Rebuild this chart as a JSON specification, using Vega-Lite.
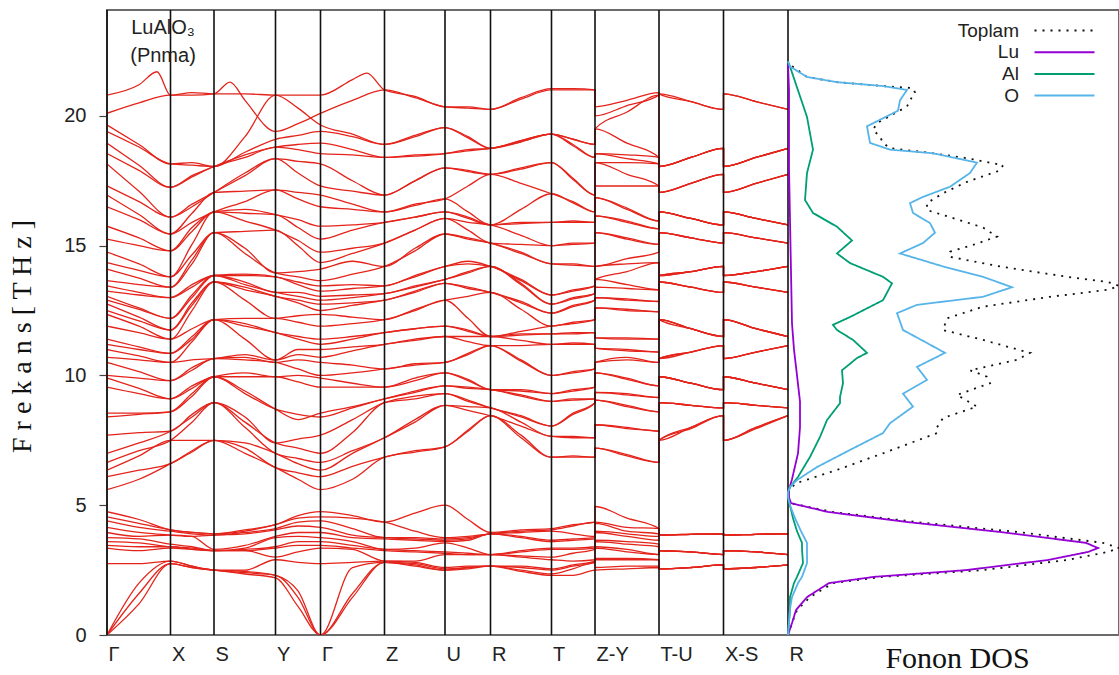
{
  "$schema": "https://vega.github.io/schema/vega-lite/v6.json",
  "width": 1012,
  "height": 625,
  "autosize": {"type": "none"},
  "padding": {"left": 107, "top": 10, "right": 0, "bottom": 40},
  "background": "white",
  "config": {
    "view": {"stroke": "#6b6b6b", "strokeWidth": 2},
    "font": "Liberation Sans"
  },
  "title": {
    "text": "LuAlO₃",
    "subtitle": "(Pnma)",
    "anchor": "start",
    "frame": "group",
    "align": "center",
    "dx": 56,
    "offset": -57,
    "font": "Liberation Sans",
    "fontSize": 20,
    "fontWeight": "normal",
    "color": "#222222",
    "subtitleFont": "Liberation Sans",
    "subtitleFontSize": 20,
    "subtitleColor": "#222222",
    "subtitlePadding": 8
  },
  "datasets": {
    "kpts": [{"k":0},{"k":0.635},{"k":1.07},{"k":1.685},{"k":2.135},{"k":2.775},{"k":3.38},{"k":3.835},{"k":4.445},{"k":4.88},{"k":5.52},{"k":6.165},{"k":6.81}],
    "bands": [
{"b":1,"k":0,"f":0},{"b":1,"k":0.32,"f":1.2},{"b":1,"k":0.635,"f":2.75},{"b":1,"k":0.85,"f":2.6},{"b":1,"k":1.07,"f":2.5},{"b":1,"k":1.38,"f":2.35},{"b":1,"k":1.685,"f":2.2},{"b":1,"k":1.91,"f":1.1},{"b":1,"k":2.135,"f":0},{"b":1,"k":2.455,"f":1.45},{"b":1,"k":2.775,"f":2.8},{"b":1,"k":3.08,"f":2.65},{"b":1,"k":3.38,"f":2.5},{"b":1,"k":3.61,"f":2.55},{"b":1,"k":3.835,"f":2.65},{"b":1,"k":4.14,"f":2.45},{"b":1,"k":4.445,"f":2.3},{"b":1,"k":4.66,"f":2.3},{"b":1,"k":4.88,"f":2.5},{"b":1,"k":4.88,"f":2.5},{"b":1,"k":5.2,"f":2.55},{"b":1,"k":5.52,"f":2.6},{"b":1,"k":5.52,"f":2.55},{"b":1,"k":5.84,"f":2.6},{"b":1,"k":6.165,"f":2.7},{"b":1,"k":6.165,"f":2.55},{"b":1,"k":6.49,"f":2.6},{"b":1,"k":6.81,"f":2.7},
{"b":2,"k":0,"f":0},{"b":2,"k":0.32,"f":1.6},{"b":2,"k":0.635,"f":2.75},{"b":2,"k":0.85,"f":2.6},{"b":2,"k":1.07,"f":2.5},{"b":2,"k":1.38,"f":2.4},{"b":2,"k":1.685,"f":2.3},{"b":2,"k":1.91,"f":1.45},{"b":2,"k":2.135,"f":0},{"b":2,"k":2.455,"f":1.6},{"b":2,"k":2.775,"f":2.8},{"b":2,"k":3.08,"f":2.7},{"b":2,"k":3.38,"f":2.5},{"b":2,"k":3.61,"f":2.6},{"b":2,"k":3.835,"f":2.65},{"b":2,"k":4.14,"f":2.5},{"b":2,"k":4.445,"f":2.35},{"b":2,"k":4.66,"f":2.55},{"b":2,"k":4.88,"f":2.8},{"b":2,"k":4.88,"f":2.6},{"b":2,"k":5.2,"f":2.65},{"b":2,"k":5.52,"f":2.65},{"b":2,"k":5.52,"f":2.55},{"b":2,"k":5.84,"f":2.6},{"b":2,"k":6.165,"f":2.7},{"b":2,"k":6.165,"f":2.55},{"b":2,"k":6.49,"f":2.6},{"b":2,"k":6.81,"f":2.7},
{"b":3,"k":0,"f":0},{"b":3,"k":0.32,"f":2.0},{"b":3,"k":0.635,"f":2.85},{"b":3,"k":0.85,"f":2.65},{"b":3,"k":1.07,"f":2.5},{"b":3,"k":1.38,"f":2.45},{"b":3,"k":1.685,"f":2.3},{"b":3,"k":1.91,"f":1.7},{"b":3,"k":2.135,"f":0},{"b":3,"k":2.455,"f":2.6},{"b":3,"k":2.775,"f":2.8},{"b":3,"k":3.08,"f":2.75},{"b":3,"k":3.38,"f":2.55},{"b":3,"k":3.61,"f":2.6},{"b":3,"k":3.835,"f":2.65},{"b":3,"k":4.14,"f":2.6},{"b":3,"k":4.445,"f":2.5},{"b":3,"k":4.66,"f":2.65},{"b":3,"k":4.88,"f":2.8},{"b":3,"k":4.88,"f":2.9},{"b":3,"k":5.2,"f":2.9},{"b":3,"k":5.52,"f":2.9},{"b":3,"k":5.52,"f":2.55},{"b":3,"k":5.84,"f":2.6},{"b":3,"k":6.165,"f":2.7},{"b":3,"k":6.165,"f":2.55},{"b":3,"k":6.49,"f":2.6},{"b":3,"k":6.81,"f":2.7},
{"b":4,"k":0,"f":2.75},{"b":4,"k":0.32,"f":2.75},{"b":4,"k":0.635,"f":2.85},{"b":4,"k":0.85,"f":2.65},{"b":4,"k":1.07,"f":2.5},{"b":4,"k":1.38,"f":2.5},{"b":4,"k":1.685,"f":2.9},{"b":4,"k":1.91,"f":2.8},{"b":4,"k":2.135,"f":2.75},{"b":4,"k":2.455,"f":2.8},{"b":4,"k":2.775,"f":2.85},{"b":4,"k":3.08,"f":2.8},{"b":4,"k":3.38,"f":2.6},{"b":4,"k":3.61,"f":2.65},{"b":4,"k":3.835,"f":2.65},{"b":4,"k":4.14,"f":2.65},{"b":4,"k":4.445,"f":2.55},{"b":4,"k":4.66,"f":2.7},{"b":4,"k":4.88,"f":2.85},{"b":4,"k":4.88,"f":2.95},{"b":4,"k":5.2,"f":2.95},{"b":4,"k":5.52,"f":2.9},{"b":4,"k":5.52,"f":2.55},{"b":4,"k":5.84,"f":2.6},{"b":4,"k":6.165,"f":2.7},{"b":4,"k":6.165,"f":2.55},{"b":4,"k":6.49,"f":2.6},{"b":4,"k":6.81,"f":2.7},
{"b":5,"k":0,"f":3.35},{"b":5,"k":0.32,"f":3.25},{"b":5,"k":0.635,"f":3.35},{"b":5,"k":0.85,"f":3.3},{"b":5,"k":1.07,"f":3.25},{"b":5,"k":1.38,"f":3.25},{"b":5,"k":1.685,"f":3.0},{"b":5,"k":1.91,"f":3.2},{"b":5,"k":2.135,"f":3.35},{"b":5,"k":2.455,"f":3.3},{"b":5,"k":2.775,"f":2.85},{"b":5,"k":3.08,"f":2.85},{"b":5,"k":3.38,"f":3.1},{"b":5,"k":3.61,"f":3.1},{"b":5,"k":3.835,"f":3.1},{"b":5,"k":4.14,"f":3.0},{"b":5,"k":4.445,"f":2.9},{"b":5,"k":4.66,"f":2.85},{"b":5,"k":4.88,"f":2.9},{"b":5,"k":4.88,"f":3.35},{"b":5,"k":5.2,"f":3.2},{"b":5,"k":5.52,"f":3.1},{"b":5,"k":5.52,"f":3.25},{"b":5,"k":5.84,"f":3.2},{"b":5,"k":6.165,"f":3.1},{"b":5,"k":6.165,"f":3.25},{"b":5,"k":6.49,"f":3.2},{"b":5,"k":6.81,"f":3.1},
{"b":6,"k":0,"f":3.45},{"b":6,"k":0.32,"f":3.4},{"b":6,"k":0.635,"f":3.4},{"b":6,"k":0.85,"f":3.3},{"b":6,"k":1.07,"f":3.25},{"b":6,"k":1.38,"f":3.25},{"b":6,"k":1.685,"f":3.35},{"b":6,"k":1.91,"f":3.45},{"b":6,"k":2.135,"f":3.45},{"b":6,"k":2.455,"f":3.35},{"b":6,"k":2.775,"f":3.25},{"b":6,"k":3.08,"f":3.2},{"b":6,"k":3.38,"f":3.15},{"b":6,"k":3.61,"f":3.1},{"b":6,"k":3.835,"f":3.1},{"b":6,"k":4.14,"f":3.05},{"b":6,"k":4.445,"f":3.0},{"b":6,"k":4.66,"f":3.15},{"b":6,"k":4.88,"f":3.3},{"b":6,"k":4.88,"f":3.4},{"b":6,"k":5.2,"f":3.3},{"b":6,"k":5.52,"f":3.1},{"b":6,"k":5.52,"f":3.25},{"b":6,"k":5.84,"f":3.2},{"b":6,"k":6.165,"f":3.1},{"b":6,"k":6.165,"f":3.25},{"b":6,"k":6.49,"f":3.2},{"b":6,"k":6.81,"f":3.1},
{"b":7,"k":0,"f":3.6},{"b":7,"k":0.32,"f":3.55},{"b":7,"k":0.635,"f":3.4},{"b":7,"k":0.85,"f":3.35},{"b":7,"k":1.07,"f":3.25},{"b":7,"k":1.38,"f":3.3},{"b":7,"k":1.685,"f":3.4},{"b":7,"k":1.91,"f":3.6},{"b":7,"k":2.135,"f":3.6},{"b":7,"k":2.455,"f":3.45},{"b":7,"k":2.775,"f":3.3},{"b":7,"k":3.08,"f":3.25},{"b":7,"k":3.38,"f":3.2},{"b":7,"k":3.61,"f":3.15},{"b":7,"k":3.835,"f":3.1},{"b":7,"k":4.14,"f":3.2},{"b":7,"k":4.445,"f":3.3},{"b":7,"k":4.66,"f":3.3},{"b":7,"k":4.88,"f":3.35},{"b":7,"k":4.88,"f":3.6},{"b":7,"k":5.2,"f":3.5},{"b":7,"k":5.52,"f":3.4},{"b":7,"k":5.52,"f":3.25},{"b":7,"k":5.84,"f":3.2},{"b":7,"k":6.165,"f":3.1},{"b":7,"k":6.165,"f":3.25},{"b":7,"k":6.49,"f":3.2},{"b":7,"k":6.81,"f":3.1},
{"b":8,"k":0,"f":3.75},{"b":8,"k":0.32,"f":3.7},{"b":8,"k":0.635,"f":3.5},{"b":8,"k":0.85,"f":3.4},{"b":8,"k":1.07,"f":3.25},{"b":8,"k":1.38,"f":3.35},{"b":8,"k":1.685,"f":3.75},{"b":8,"k":1.91,"f":3.8},{"b":8,"k":2.135,"f":3.75},{"b":8,"k":2.455,"f":3.6},{"b":8,"k":2.775,"f":3.3},{"b":8,"k":3.08,"f":3.35},{"b":8,"k":3.38,"f":3.55},{"b":8,"k":3.61,"f":3.35},{"b":8,"k":3.835,"f":3.1},{"b":8,"k":4.14,"f":3.25},{"b":8,"k":4.445,"f":3.35},{"b":8,"k":4.66,"f":3.35},{"b":8,"k":4.88,"f":3.4},{"b":8,"k":4.88,"f":3.65},{"b":8,"k":5.2,"f":3.6},{"b":8,"k":5.52,"f":3.5},{"b":8,"k":5.52,"f":3.25},{"b":8,"k":5.84,"f":3.2},{"b":8,"k":6.165,"f":3.1},{"b":8,"k":6.165,"f":3.25},{"b":8,"k":6.49,"f":3.2},{"b":8,"k":6.81,"f":3.1},
{"b":9,"k":0,"f":3.95},{"b":9,"k":0.32,"f":3.8},{"b":9,"k":0.635,"f":3.85},{"b":9,"k":0.85,"f":3.8},{"b":9,"k":1.07,"f":3.3},{"b":9,"k":1.38,"f":3.45},{"b":9,"k":1.685,"f":3.8},{"b":9,"k":1.91,"f":3.95},{"b":9,"k":2.135,"f":3.95},{"b":9,"k":2.455,"f":3.75},{"b":9,"k":2.775,"f":3.7},{"b":9,"k":3.08,"f":3.65},{"b":9,"k":3.38,"f":3.6},{"b":9,"k":3.61,"f":3.65},{"b":9,"k":3.835,"f":3.9},{"b":9,"k":4.14,"f":3.75},{"b":9,"k":4.445,"f":3.6},{"b":9,"k":4.66,"f":3.65},{"b":9,"k":4.88,"f":3.7},{"b":9,"k":4.88,"f":3.95},{"b":9,"k":5.2,"f":3.8},{"b":9,"k":5.52,"f":3.65},{"b":9,"k":5.52,"f":3.85},{"b":9,"k":5.84,"f":3.88},{"b":9,"k":6.165,"f":3.9},{"b":9,"k":6.165,"f":3.85},{"b":9,"k":6.49,"f":3.88},{"b":9,"k":6.81,"f":3.9},
{"b":10,"k":0,"f":4.15},{"b":10,"k":0.32,"f":3.95},{"b":10,"k":0.635,"f":3.85},{"b":10,"k":0.85,"f":3.8},{"b":10,"k":1.07,"f":3.85},{"b":10,"k":1.38,"f":3.9},{"b":10,"k":1.685,"f":4.05},{"b":10,"k":1.91,"f":4.2},{"b":10,"k":2.135,"f":4.15},{"b":10,"k":2.455,"f":3.85},{"b":10,"k":2.775,"f":3.75},{"b":10,"k":3.08,"f":3.7},{"b":10,"k":3.38,"f":3.65},{"b":10,"k":3.61,"f":3.7},{"b":10,"k":3.835,"f":3.9},{"b":10,"k":4.14,"f":3.8},{"b":10,"k":4.445,"f":3.65},{"b":10,"k":4.66,"f":3.7},{"b":10,"k":4.88,"f":3.75},{"b":10,"k":4.88,"f":4.0},{"b":10,"k":5.2,"f":3.9},{"b":10,"k":5.52,"f":3.8},{"b":10,"k":5.52,"f":3.85},{"b":10,"k":5.84,"f":3.88},{"b":10,"k":6.165,"f":3.9},{"b":10,"k":6.165,"f":3.85},{"b":10,"k":6.49,"f":3.88},{"b":10,"k":6.81,"f":3.9},
{"b":11,"k":0,"f":4.4},{"b":11,"k":0.32,"f":4.15},{"b":11,"k":0.635,"f":4.0},{"b":11,"k":0.85,"f":3.9},{"b":11,"k":1.07,"f":3.85},{"b":11,"k":1.38,"f":3.95},{"b":11,"k":1.685,"f":4.1},{"b":11,"k":1.91,"f":4.35},{"b":11,"k":2.135,"f":4.4},{"b":11,"k":2.455,"f":4.1},{"b":11,"k":2.775,"f":3.75},{"b":11,"k":3.08,"f":3.75},{"b":11,"k":3.38,"f":3.7},{"b":11,"k":3.61,"f":3.75},{"b":11,"k":3.835,"f":3.9},{"b":11,"k":4.14,"f":3.95},{"b":11,"k":4.445,"f":4.0},{"b":11,"k":4.66,"f":3.9},{"b":11,"k":4.88,"f":3.8},{"b":11,"k":4.88,"f":4.3},{"b":11,"k":5.2,"f":4.0},{"b":11,"k":5.52,"f":3.9},{"b":11,"k":5.52,"f":3.85},{"b":11,"k":5.84,"f":3.88},{"b":11,"k":6.165,"f":3.9},{"b":11,"k":6.165,"f":3.85},{"b":11,"k":6.49,"f":3.88},{"b":11,"k":6.81,"f":3.9},
{"b":12,"k":0,"f":4.55},{"b":12,"k":0.32,"f":4.3},{"b":12,"k":0.635,"f":4.05},{"b":12,"k":0.85,"f":3.95},{"b":12,"k":1.07,"f":3.9},{"b":12,"k":1.38,"f":4.0},{"b":12,"k":1.685,"f":4.25},{"b":12,"k":1.91,"f":4.5},{"b":12,"k":2.135,"f":4.55},{"b":12,"k":2.455,"f":4.5},{"b":12,"k":2.775,"f":4.35},{"b":12,"k":3.08,"f":4.0},{"b":12,"k":3.38,"f":3.75},{"b":12,"k":3.61,"f":3.8},{"b":12,"k":3.835,"f":3.9},{"b":12,"k":4.14,"f":4.0},{"b":12,"k":4.445,"f":4.05},{"b":12,"k":4.66,"f":4.2},{"b":12,"k":4.88,"f":4.35},{"b":12,"k":4.88,"f":4.35},{"b":12,"k":5.2,"f":4.15},{"b":12,"k":5.52,"f":4.1},{"b":12,"k":5.52,"f":3.85},{"b":12,"k":5.84,"f":3.88},{"b":12,"k":6.165,"f":3.9},{"b":12,"k":6.165,"f":3.85},{"b":12,"k":6.49,"f":3.88},{"b":12,"k":6.81,"f":3.9},
{"b":13,"k":0,"f":4.75},{"b":13,"k":0.32,"f":4.45},{"b":13,"k":0.635,"f":4.05},{"b":13,"k":0.85,"f":3.95},{"b":13,"k":1.07,"f":3.9},{"b":13,"k":1.38,"f":4.05},{"b":13,"k":1.685,"f":4.25},{"b":13,"k":1.91,"f":4.6},{"b":13,"k":2.135,"f":4.75},{"b":13,"k":2.455,"f":4.6},{"b":13,"k":2.775,"f":4.35},{"b":13,"k":3.08,"f":4.7},{"b":13,"k":3.38,"f":5.0},{"b":13,"k":3.61,"f":4.45},{"b":13,"k":3.835,"f":3.95},{"b":13,"k":4.14,"f":4.05},{"b":13,"k":4.445,"f":4.1},{"b":13,"k":4.66,"f":4.25},{"b":13,"k":4.88,"f":4.35},{"b":13,"k":4.88,"f":4.95},{"b":13,"k":5.2,"f":4.5},{"b":13,"k":5.52,"f":4.1},{"b":13,"k":5.52,"f":3.85},{"b":13,"k":5.84,"f":3.88},{"b":13,"k":6.165,"f":3.9},{"b":13,"k":6.165,"f":3.85},{"b":13,"k":6.49,"f":3.88},{"b":13,"k":6.81,"f":3.9},
{"b":14,"k":0,"f":5.6},{"b":14,"k":0.32,"f":6.0},{"b":14,"k":0.635,"f":6.6},{"b":14,"k":0.85,"f":7.05},{"b":14,"k":1.07,"f":7.5},{"b":14,"k":1.38,"f":7.0},{"b":14,"k":1.685,"f":6.45},{"b":14,"k":1.91,"f":6.0},{"b":14,"k":2.135,"f":5.6},{"b":14,"k":2.455,"f":6.0},{"b":14,"k":2.775,"f":6.85},{"b":14,"k":3.08,"f":7.05},{"b":14,"k":3.38,"f":7.25},{"b":14,"k":3.61,"f":7.85},{"b":14,"k":3.835,"f":8.45},{"b":14,"k":4.14,"f":7.6},{"b":14,"k":4.445,"f":6.85},{"b":14,"k":4.66,"f":6.85},{"b":14,"k":4.88,"f":6.85},{"b":14,"k":4.88,"f":7.2},{"b":14,"k":5.2,"f":6.9},{"b":14,"k":5.52,"f":6.65},{"b":14,"k":5.52,"f":7.5},{"b":14,"k":5.84,"f":7.95},{"b":14,"k":6.165,"f":8.45},{"b":14,"k":6.165,"f":7.5},{"b":14,"k":6.49,"f":7.95},{"b":14,"k":6.81,"f":8.45},
{"b":15,"k":0,"f":6.1},{"b":15,"k":0.32,"f":6.35},{"b":15,"k":0.635,"f":6.6},{"b":15,"k":0.85,"f":7.1},{"b":15,"k":1.07,"f":7.5},{"b":15,"k":1.38,"f":7.2},{"b":15,"k":1.685,"f":6.45},{"b":15,"k":1.91,"f":6.25},{"b":15,"k":2.135,"f":6.1},{"b":15,"k":2.455,"f":6.5},{"b":15,"k":2.775,"f":6.85},{"b":15,"k":3.08,"f":7.1},{"b":15,"k":3.38,"f":7.25},{"b":15,"k":3.61,"f":7.9},{"b":15,"k":3.835,"f":8.45},{"b":15,"k":4.14,"f":7.7},{"b":15,"k":4.445,"f":6.85},{"b":15,"k":4.66,"f":6.9},{"b":15,"k":4.88,"f":6.85},{"b":15,"k":4.88,"f":7.2},{"b":15,"k":5.2,"f":6.95},{"b":15,"k":5.52,"f":6.65},{"b":15,"k":5.52,"f":7.5},{"b":15,"k":5.84,"f":8.0},{"b":15,"k":6.165,"f":8.45},{"b":15,"k":6.165,"f":7.5},{"b":15,"k":6.49,"f":8.0},{"b":15,"k":6.81,"f":8.45},
{"b":16,"k":0,"f":6.35},{"b":16,"k":0.32,"f":6.9},{"b":16,"k":0.635,"f":7.5},{"b":16,"k":0.85,"f":7.5},{"b":16,"k":1.07,"f":7.5},{"b":16,"k":1.38,"f":7.4},{"b":16,"k":1.685,"f":7.0},{"b":16,"k":1.91,"f":6.6},{"b":16,"k":2.135,"f":6.35},{"b":16,"k":2.455,"f":7.0},{"b":16,"k":2.775,"f":7.6},{"b":16,"k":3.08,"f":8.2},{"b":16,"k":3.38,"f":8.85},{"b":16,"k":3.61,"f":8.65},{"b":16,"k":3.835,"f":8.45},{"b":16,"k":4.14,"f":8.05},{"b":16,"k":4.445,"f":7.65},{"b":16,"k":4.66,"f":7.6},{"b":16,"k":4.88,"f":7.6},{"b":16,"k":4.88,"f":8.1},{"b":16,"k":5.2,"f":7.95},{"b":16,"k":5.52,"f":7.85},{"b":16,"k":5.52,"f":7.5},{"b":16,"k":5.84,"f":8.0},{"b":16,"k":6.165,"f":8.45},{"b":16,"k":6.165,"f":7.5},{"b":16,"k":6.49,"f":8.0},{"b":16,"k":6.81,"f":8.45},
{"b":17,"k":0,"f":6.65},{"b":17,"k":0.32,"f":7.1},{"b":17,"k":0.635,"f":7.5},{"b":17,"k":0.85,"f":8.2},{"b":17,"k":1.07,"f":8.95},{"b":17,"k":1.38,"f":8.0},{"b":17,"k":1.685,"f":7.0},{"b":17,"k":1.91,"f":6.8},{"b":17,"k":2.135,"f":6.65},{"b":17,"k":2.455,"f":7.1},{"b":17,"k":2.775,"f":7.6},{"b":17,"k":3.08,"f":8.3},{"b":17,"k":3.38,"f":8.85},{"b":17,"k":3.61,"f":8.8},{"b":17,"k":3.835,"f":8.75},{"b":17,"k":4.14,"f":8.2},{"b":17,"k":4.445,"f":7.65},{"b":17,"k":4.66,"f":7.65},{"b":17,"k":4.88,"f":7.6},{"b":17,"k":4.88,"f":8.1},{"b":17,"k":5.2,"f":8.0},{"b":17,"k":5.52,"f":7.85},{"b":17,"k":5.52,"f":8.95},{"b":17,"k":5.84,"f":8.85},{"b":17,"k":6.165,"f":8.75},{"b":17,"k":6.165,"f":8.95},{"b":17,"k":6.49,"f":8.85},{"b":17,"k":6.81,"f":8.75},
{"b":18,"k":0,"f":7.0},{"b":18,"k":0.32,"f":7.4},{"b":18,"k":0.635,"f":7.85},{"b":18,"k":0.85,"f":8.4},{"b":18,"k":1.07,"f":8.95},{"b":18,"k":1.38,"f":8.2},{"b":18,"k":1.685,"f":7.4},{"b":18,"k":1.91,"f":7.2},{"b":18,"k":2.135,"f":7.0},{"b":18,"k":2.455,"f":7.8},{"b":18,"k":2.775,"f":8.95},{"b":18,"k":3.08,"f":9.1},{"b":18,"k":3.38,"f":9.3},{"b":18,"k":3.61,"f":9.0},{"b":18,"k":3.835,"f":8.75},{"b":18,"k":4.14,"f":8.4},{"b":18,"k":4.445,"f":8.05},{"b":18,"k":4.66,"f":8.5},{"b":18,"k":4.88,"f":8.95},{"b":18,"k":4.88,"f":9.05},{"b":18,"k":5.2,"f":8.8},{"b":18,"k":5.52,"f":8.6},{"b":18,"k":5.52,"f":8.95},{"b":18,"k":5.84,"f":8.85},{"b":18,"k":6.165,"f":8.75},{"b":18,"k":6.165,"f":8.95},{"b":18,"k":6.49,"f":8.85},{"b":18,"k":6.81,"f":8.75},
{"b":19,"k":0,"f":7.7},{"b":19,"k":0.32,"f":7.8},{"b":19,"k":0.635,"f":7.85},{"b":19,"k":0.85,"f":8.5},{"b":19,"k":1.07,"f":8.95},{"b":19,"k":1.38,"f":8.4},{"b":19,"k":1.685,"f":7.4},{"b":19,"k":1.91,"f":7.55},{"b":19,"k":2.135,"f":7.7},{"b":19,"k":2.455,"f":8.3},{"b":19,"k":2.775,"f":8.95},{"b":19,"k":3.08,"f":9.2},{"b":19,"k":3.38,"f":9.3},{"b":19,"k":3.61,"f":9.05},{"b":19,"k":3.835,"f":8.75},{"b":19,"k":4.14,"f":8.45},{"b":19,"k":4.445,"f":8.05},{"b":19,"k":4.66,"f":8.55},{"b":19,"k":4.88,"f":8.95},{"b":19,"k":4.88,"f":9.05},{"b":19,"k":5.2,"f":8.85},{"b":19,"k":5.52,"f":8.6},{"b":19,"k":5.52,"f":8.95},{"b":19,"k":5.84,"f":8.85},{"b":19,"k":6.165,"f":8.75},{"b":19,"k":6.165,"f":8.95},{"b":19,"k":6.49,"f":8.85},{"b":19,"k":6.81,"f":8.75},
{"b":20,"k":0,"f":8.4},{"b":20,"k":0.32,"f":8.5},{"b":20,"k":0.635,"f":8.6},{"b":20,"k":0.85,"f":9.3},{"b":20,"k":1.07,"f":9.95},{"b":20,"k":1.38,"f":9.3},{"b":20,"k":1.685,"f":8.7},{"b":20,"k":1.91,"f":8.5},{"b":20,"k":2.135,"f":8.4},{"b":20,"k":2.455,"f":8.75},{"b":20,"k":2.775,"f":9.1},{"b":20,"k":3.08,"f":9.35},{"b":20,"k":3.38,"f":9.6},{"b":20,"k":3.61,"f":9.5},{"b":20,"k":3.835,"f":9.45},{"b":20,"k":4.14,"f":9.2},{"b":20,"k":4.445,"f":9.0},{"b":20,"k":4.66,"f":9.05},{"b":20,"k":4.88,"f":9.1},{"b":20,"k":4.88,"f":9.35},{"b":20,"k":5.2,"f":9.25},{"b":20,"k":5.52,"f":9.15},{"b":20,"k":5.52,"f":9.95},{"b":20,"k":5.84,"f":9.7},{"b":20,"k":6.165,"f":9.45},{"b":20,"k":6.165,"f":9.95},{"b":20,"k":6.49,"f":9.7},{"b":20,"k":6.81,"f":9.45},
{"b":21,"k":0,"f":8.55},{"b":21,"k":0.32,"f":8.55},{"b":21,"k":0.635,"f":8.6},{"b":21,"k":0.85,"f":9.2},{"b":21,"k":1.07,"f":9.95},{"b":21,"k":1.38,"f":9.4},{"b":21,"k":1.685,"f":8.7},{"b":21,"k":1.91,"f":8.3},{"b":21,"k":2.135,"f":8.55},{"b":21,"k":2.455,"f":8.8},{"b":21,"k":2.775,"f":9.1},{"b":21,"k":3.08,"f":9.4},{"b":21,"k":3.38,"f":9.6},{"b":21,"k":3.61,"f":9.55},{"b":21,"k":3.835,"f":9.45},{"b":21,"k":4.14,"f":9.25},{"b":21,"k":4.445,"f":9.0},{"b":21,"k":4.66,"f":9.1},{"b":21,"k":4.88,"f":9.1},{"b":21,"k":4.88,"f":9.35},{"b":21,"k":5.2,"f":9.3},{"b":21,"k":5.52,"f":9.15},{"b":21,"k":5.52,"f":9.95},{"b":21,"k":5.84,"f":9.7},{"b":21,"k":6.165,"f":9.45},{"b":21,"k":6.165,"f":9.95},{"b":21,"k":6.49,"f":9.7},{"b":21,"k":6.81,"f":9.45},
{"b":22,"k":0,"f":9.55},{"b":22,"k":0.32,"f":9.3},{"b":22,"k":0.635,"f":9.1},{"b":22,"k":0.85,"f":9.5},{"b":22,"k":1.07,"f":9.95},{"b":22,"k":1.38,"f":9.95},{"b":22,"k":1.685,"f":9.95},{"b":22,"k":1.91,"f":9.75},{"b":22,"k":2.135,"f":9.55},{"b":22,"k":2.455,"f":9.55},{"b":22,"k":2.775,"f":9.55},{"b":22,"k":3.08,"f":9.8},{"b":22,"k":3.38,"f":10.1},{"b":22,"k":3.61,"f":9.8},{"b":22,"k":3.835,"f":9.45},{"b":22,"k":4.14,"f":9.4},{"b":22,"k":4.445,"f":9.3},{"b":22,"k":4.66,"f":9.4},{"b":22,"k":4.88,"f":9.55},{"b":22,"k":4.88,"f":10.1},{"b":22,"k":5.2,"f":9.85},{"b":22,"k":5.52,"f":9.6},{"b":22,"k":5.52,"f":9.95},{"b":22,"k":5.84,"f":9.7},{"b":22,"k":6.165,"f":9.45},{"b":22,"k":6.165,"f":9.95},{"b":22,"k":6.49,"f":9.7},{"b":22,"k":6.81,"f":9.45},
{"b":23,"k":0,"f":9.9},{"b":23,"k":0.32,"f":9.5},{"b":23,"k":0.635,"f":9.1},{"b":23,"k":0.85,"f":9.6},{"b":23,"k":1.07,"f":9.95},{"b":23,"k":1.38,"f":10.1},{"b":23,"k":1.685,"f":9.95},{"b":23,"k":1.91,"f":10.0},{"b":23,"k":2.135,"f":9.9},{"b":23,"k":2.455,"f":9.7},{"b":23,"k":2.775,"f":9.55},{"b":23,"k":3.08,"f":9.9},{"b":23,"k":3.38,"f":10.1},{"b":23,"k":3.61,"f":9.85},{"b":23,"k":3.835,"f":9.45},{"b":23,"k":4.14,"f":9.45},{"b":23,"k":4.445,"f":9.3},{"b":23,"k":4.66,"f":9.45},{"b":23,"k":4.88,"f":9.55},{"b":23,"k":4.88,"f":10.1},{"b":23,"k":5.2,"f":9.9},{"b":23,"k":5.52,"f":9.6},{"b":23,"k":5.52,"f":9.95},{"b":23,"k":5.84,"f":9.7},{"b":23,"k":6.165,"f":9.45},{"b":23,"k":6.165,"f":9.95},{"b":23,"k":6.49,"f":9.7},{"b":23,"k":6.81,"f":9.45},
{"b":24,"k":0,"f":10.0},{"b":24,"k":0.32,"f":9.9},{"b":24,"k":0.635,"f":9.8},{"b":24,"k":0.85,"f":10.2},{"b":24,"k":1.07,"f":10.65},{"b":24,"k":1.38,"f":10.6},{"b":24,"k":1.685,"f":10.5},{"b":24,"k":1.91,"f":10.25},{"b":24,"k":2.135,"f":10.0},{"b":24,"k":2.455,"f":10.1},{"b":24,"k":2.775,"f":10.25},{"b":24,"k":3.08,"f":10.4},{"b":24,"k":3.38,"f":10.5},{"b":24,"k":3.61,"f":10.8},{"b":24,"k":3.835,"f":11.15},{"b":24,"k":4.14,"f":10.6},{"b":24,"k":4.445,"f":10.0},{"b":24,"k":4.66,"f":10.1},{"b":24,"k":4.88,"f":10.25},{"b":24,"k":4.88,"f":10.5},{"b":24,"k":5.2,"f":10.7},{"b":24,"k":5.52,"f":10.5},{"b":24,"k":5.52,"f":10.65},{"b":24,"k":5.84,"f":10.9},{"b":24,"k":6.165,"f":11.15},{"b":24,"k":6.165,"f":10.65},{"b":24,"k":6.49,"f":10.9},{"b":24,"k":6.81,"f":11.15},
{"b":25,"k":0,"f":10.5},{"b":25,"k":0.32,"f":10.15},{"b":25,"k":0.635,"f":9.8},{"b":25,"k":0.85,"f":10.3},{"b":25,"k":1.07,"f":10.65},{"b":25,"k":1.38,"f":10.7},{"b":25,"k":1.685,"f":10.5},{"b":25,"k":1.91,"f":10.6},{"b":25,"k":2.135,"f":10.5},{"b":25,"k":2.455,"f":10.4},{"b":25,"k":2.775,"f":10.25},{"b":25,"k":3.08,"f":10.45},{"b":25,"k":3.38,"f":10.5},{"b":25,"k":3.61,"f":10.85},{"b":25,"k":3.835,"f":11.15},{"b":25,"k":4.14,"f":10.55},{"b":25,"k":4.445,"f":10.0},{"b":25,"k":4.66,"f":10.15},{"b":25,"k":4.88,"f":10.25},{"b":25,"k":4.88,"f":10.5},{"b":25,"k":5.2,"f":10.6},{"b":25,"k":5.52,"f":10.5},{"b":25,"k":5.52,"f":10.65},{"b":25,"k":5.84,"f":10.9},{"b":25,"k":6.165,"f":11.15},{"b":25,"k":6.165,"f":10.65},{"b":25,"k":6.49,"f":10.9},{"b":25,"k":6.81,"f":11.15},
{"b":26,"k":0,"f":10.7},{"b":26,"k":0.32,"f":10.6},{"b":26,"k":0.635,"f":10.5},{"b":26,"k":0.85,"f":10.6},{"b":26,"k":1.07,"f":10.65},{"b":26,"k":1.38,"f":10.8},{"b":26,"k":1.685,"f":10.6},{"b":26,"k":1.91,"f":10.8},{"b":26,"k":2.135,"f":10.7},{"b":26,"k":2.455,"f":10.95},{"b":26,"k":2.775,"f":11.2},{"b":26,"k":3.08,"f":11.35},{"b":26,"k":3.38,"f":11.5},{"b":26,"k":3.61,"f":11.3},{"b":26,"k":3.835,"f":11.15},{"b":26,"k":4.14,"f":11.15},{"b":26,"k":4.445,"f":11.2},{"b":26,"k":4.66,"f":11.2},{"b":26,"k":4.88,"f":11.2},{"b":26,"k":4.88,"f":11.05},{"b":26,"k":5.2,"f":10.95},{"b":26,"k":5.52,"f":10.9},{"b":26,"k":5.52,"f":10.65},{"b":26,"k":5.84,"f":10.9},{"b":26,"k":6.165,"f":11.15},{"b":26,"k":6.165,"f":10.65},{"b":26,"k":6.49,"f":10.9},{"b":26,"k":6.81,"f":11.15},
{"b":27,"k":0,"f":11.0},{"b":27,"k":0.32,"f":10.75},{"b":27,"k":0.635,"f":10.5},{"b":27,"k":0.85,"f":11.3},{"b":27,"k":1.07,"f":12.15},{"b":27,"k":1.38,"f":11.4},{"b":27,"k":1.685,"f":10.6},{"b":27,"k":1.91,"f":11.0},{"b":27,"k":2.135,"f":11.0},{"b":27,"k":2.455,"f":11.1},{"b":27,"k":2.775,"f":11.2},{"b":27,"k":3.08,"f":11.4},{"b":27,"k":3.38,"f":11.5},{"b":27,"k":3.61,"f":11.5},{"b":27,"k":3.835,"f":11.5},{"b":27,"k":4.14,"f":11.35},{"b":27,"k":4.445,"f":11.2},{"b":27,"k":4.66,"f":11.25},{"b":27,"k":4.88,"f":11.2},{"b":27,"k":4.88,"f":11.05},{"b":27,"k":5.2,"f":11.0},{"b":27,"k":5.52,"f":10.9},{"b":27,"k":5.52,"f":12.15},{"b":27,"k":5.84,"f":11.8},{"b":27,"k":6.165,"f":11.5},{"b":27,"k":6.165,"f":12.15},{"b":27,"k":6.49,"f":11.8},{"b":27,"k":6.81,"f":11.5},
{"b":28,"k":0,"f":11.2},{"b":28,"k":0.32,"f":11.0},{"b":28,"k":0.635,"f":10.85},{"b":28,"k":0.85,"f":11.5},{"b":28,"k":1.07,"f":12.15},{"b":28,"k":1.38,"f":11.9},{"b":28,"k":1.685,"f":11.65},{"b":28,"k":1.91,"f":11.4},{"b":28,"k":2.135,"f":11.2},{"b":28,"k":2.455,"f":11.4},{"b":28,"k":2.775,"f":11.65},{"b":28,"k":3.08,"f":11.8},{"b":28,"k":3.38,"f":11.9},{"b":28,"k":3.61,"f":11.7},{"b":28,"k":3.835,"f":11.5},{"b":28,"k":4.14,"f":11.55},{"b":28,"k":4.445,"f":11.6},{"b":28,"k":4.66,"f":11.6},{"b":28,"k":4.88,"f":11.65},{"b":28,"k":4.88,"f":11.45},{"b":28,"k":5.2,"f":11.4},{"b":28,"k":5.52,"f":11.4},{"b":28,"k":5.52,"f":12.15},{"b":28,"k":5.84,"f":11.8},{"b":28,"k":6.165,"f":11.5},{"b":28,"k":6.165,"f":12.15},{"b":28,"k":6.49,"f":11.8},{"b":28,"k":6.81,"f":11.5},
{"b":29,"k":0,"f":11.4},{"b":29,"k":0.32,"f":11.1},{"b":29,"k":0.635,"f":10.85},{"b":29,"k":0.85,"f":11.4},{"b":29,"k":1.07,"f":12.15},{"b":29,"k":1.38,"f":12.0},{"b":29,"k":1.685,"f":11.65},{"b":29,"k":1.91,"f":11.5},{"b":29,"k":2.135,"f":11.4},{"b":29,"k":2.455,"f":11.5},{"b":29,"k":2.775,"f":11.65},{"b":29,"k":3.08,"f":11.8},{"b":29,"k":3.38,"f":11.9},{"b":29,"k":3.61,"f":11.75},{"b":29,"k":3.835,"f":11.5},{"b":29,"k":4.14,"f":11.6},{"b":29,"k":4.445,"f":11.6},{"b":29,"k":4.66,"f":11.65},{"b":29,"k":4.88,"f":11.65},{"b":29,"k":4.88,"f":11.45},{"b":29,"k":5.2,"f":11.45},{"b":29,"k":5.52,"f":11.4},{"b":29,"k":5.52,"f":12.15},{"b":29,"k":5.84,"f":11.8},{"b":29,"k":6.165,"f":11.5},{"b":29,"k":6.165,"f":12.15},{"b":29,"k":6.49,"f":11.8},{"b":29,"k":6.81,"f":11.5},
{"b":30,"k":0,"f":11.9},{"b":30,"k":0.32,"f":11.65},{"b":30,"k":0.635,"f":11.4},{"b":30,"k":0.85,"f":11.8},{"b":30,"k":1.07,"f":12.15},{"b":30,"k":1.38,"f":12.2},{"b":30,"k":1.685,"f":12.2},{"b":30,"k":1.91,"f":12.05},{"b":30,"k":2.135,"f":11.9},{"b":30,"k":2.455,"f":12.0},{"b":30,"k":2.775,"f":12.15},{"b":30,"k":3.08,"f":12.5},{"b":30,"k":3.38,"f":12.9},{"b":30,"k":3.61,"f":12.2},{"b":30,"k":3.835,"f":11.5},{"b":30,"k":4.14,"f":11.7},{"b":30,"k":4.445,"f":11.9},{"b":30,"k":4.66,"f":12.0},{"b":30,"k":4.88,"f":12.15},{"b":30,"k":4.88,"f":12.6},{"b":30,"k":5.2,"f":12.5},{"b":30,"k":5.52,"f":12.45},{"b":30,"k":5.52,"f":12.15},{"b":30,"k":5.84,"f":11.8},{"b":30,"k":6.165,"f":11.5},{"b":30,"k":6.165,"f":12.15},{"b":30,"k":6.49,"f":11.8},{"b":30,"k":6.81,"f":11.5},
{"b":31,"k":0,"f":12.35},{"b":31,"k":0.32,"f":11.9},{"b":31,"k":0.635,"f":11.4},{"b":31,"k":0.85,"f":12.5},{"b":31,"k":1.07,"f":13.6},{"b":31,"k":1.38,"f":12.9},{"b":31,"k":1.685,"f":12.2},{"b":31,"k":1.91,"f":12.3},{"b":31,"k":2.135,"f":12.35},{"b":31,"k":2.455,"f":12.25},{"b":31,"k":2.775,"f":12.15},{"b":31,"k":3.08,"f":12.55},{"b":31,"k":3.38,"f":12.9},{"b":31,"k":3.61,"f":13.05},{"b":31,"k":3.835,"f":13.2},{"b":31,"k":4.14,"f":12.55},{"b":31,"k":4.445,"f":11.9},{"b":31,"k":4.66,"f":12.05},{"b":31,"k":4.88,"f":12.15},{"b":31,"k":4.88,"f":12.6},{"b":31,"k":5.2,"f":12.55},{"b":31,"k":5.52,"f":12.45},{"b":31,"k":5.52,"f":13.6},{"b":31,"k":5.84,"f":13.4},{"b":31,"k":6.165,"f":13.2},{"b":31,"k":6.165,"f":13.6},{"b":31,"k":6.49,"f":13.4},{"b":31,"k":6.81,"f":13.2},
{"b":32,"k":0,"f":12.5},{"b":32,"k":0.32,"f":12.1},{"b":32,"k":0.635,"f":11.75},{"b":32,"k":0.85,"f":12.7},{"b":32,"k":1.07,"f":13.6},{"b":32,"k":1.38,"f":13.3},{"b":32,"k":1.685,"f":13.05},{"b":32,"k":1.91,"f":12.8},{"b":32,"k":2.135,"f":12.5},{"b":32,"k":2.455,"f":12.7},{"b":32,"k":2.775,"f":12.9},{"b":32,"k":3.08,"f":13.2},{"b":32,"k":3.38,"f":13.55},{"b":32,"k":3.61,"f":13.4},{"b":32,"k":3.835,"f":13.2},{"b":32,"k":4.14,"f":12.8},{"b":32,"k":4.445,"f":12.4},{"b":32,"k":4.66,"f":12.65},{"b":32,"k":4.88,"f":12.9},{"b":32,"k":4.88,"f":13.0},{"b":32,"k":5.2,"f":12.9},{"b":32,"k":5.52,"f":12.85},{"b":32,"k":5.52,"f":13.6},{"b":32,"k":5.84,"f":13.4},{"b":32,"k":6.165,"f":13.2},{"b":32,"k":6.165,"f":13.6},{"b":32,"k":6.49,"f":13.4},{"b":32,"k":6.81,"f":13.2},
{"b":33,"k":0,"f":12.75},{"b":33,"k":0.32,"f":12.25},{"b":33,"k":0.635,"f":11.75},{"b":33,"k":0.85,"f":12.8},{"b":33,"k":1.07,"f":13.6},{"b":33,"k":1.38,"f":13.4},{"b":33,"k":1.685,"f":13.05},{"b":33,"k":1.91,"f":12.9},{"b":33,"k":2.135,"f":12.75},{"b":33,"k":2.455,"f":12.8},{"b":33,"k":2.775,"f":12.9},{"b":33,"k":3.08,"f":13.25},{"b":33,"k":3.38,"f":13.55},{"b":33,"k":3.61,"f":13.35},{"b":33,"k":3.835,"f":13.2},{"b":33,"k":4.14,"f":12.85},{"b":33,"k":4.445,"f":12.4},{"b":33,"k":4.66,"f":12.7},{"b":33,"k":4.88,"f":12.9},{"b":33,"k":4.88,"f":13.0},{"b":33,"k":5.2,"f":12.95},{"b":33,"k":5.52,"f":12.85},{"b":33,"k":5.52,"f":13.6},{"b":33,"k":5.84,"f":13.4},{"b":33,"k":6.165,"f":13.2},{"b":33,"k":6.165,"f":13.6},{"b":33,"k":6.49,"f":13.4},{"b":33,"k":6.81,"f":13.2},
{"b":34,"k":0,"f":12.9},{"b":34,"k":0.32,"f":12.55},{"b":34,"k":0.635,"f":12.2},{"b":34,"k":0.85,"f":13.0},{"b":34,"k":1.07,"f":13.85},{"b":34,"k":1.38,"f":13.5},{"b":34,"k":1.685,"f":13.2},{"b":34,"k":1.91,"f":13.05},{"b":34,"k":2.135,"f":12.9},{"b":34,"k":2.455,"f":13.0},{"b":34,"k":2.775,"f":13.15},{"b":34,"k":3.08,"f":13.4},{"b":34,"k":3.38,"f":13.7},{"b":34,"k":3.61,"f":13.95},{"b":34,"k":3.835,"f":14.2},{"b":34,"k":4.14,"f":13.5},{"b":34,"k":4.445,"f":12.75},{"b":34,"k":4.66,"f":12.95},{"b":34,"k":4.88,"f":13.15},{"b":34,"k":4.88,"f":13.4},{"b":34,"k":5.2,"f":13.35},{"b":34,"k":5.52,"f":13.3},{"b":34,"k":5.52,"f":13.85},{"b":34,"k":5.84,"f":14.0},{"b":34,"k":6.165,"f":14.2},{"b":34,"k":6.165,"f":13.85},{"b":34,"k":6.49,"f":14.0},{"b":34,"k":6.81,"f":14.2},
{"b":35,"k":0,"f":13.05},{"b":35,"k":0.32,"f":12.6},{"b":35,"k":0.635,"f":12.2},{"b":35,"k":0.85,"f":13.1},{"b":35,"k":1.07,"f":13.85},{"b":35,"k":1.38,"f":13.6},{"b":35,"k":1.685,"f":13.2},{"b":35,"k":1.91,"f":13.2},{"b":35,"k":2.135,"f":13.05},{"b":35,"k":2.455,"f":13.1},{"b":35,"k":2.775,"f":13.15},{"b":35,"k":3.08,"f":13.45},{"b":35,"k":3.38,"f":13.7},{"b":35,"k":3.61,"f":14.0},{"b":35,"k":3.835,"f":14.2},{"b":35,"k":4.14,"f":13.55},{"b":35,"k":4.445,"f":12.75},{"b":35,"k":4.66,"f":13.0},{"b":35,"k":4.88,"f":13.15},{"b":35,"k":4.88,"f":13.7},{"b":35,"k":5.2,"f":13.5},{"b":35,"k":5.52,"f":13.3},{"b":35,"k":5.52,"f":13.85},{"b":35,"k":5.84,"f":14.0},{"b":35,"k":6.165,"f":14.2},{"b":35,"k":6.165,"f":13.85},{"b":35,"k":6.49,"f":14.0},{"b":35,"k":6.81,"f":14.2},
{"b":36,"k":0,"f":13.25},{"b":36,"k":0.32,"f":13.1},{"b":36,"k":0.635,"f":13.0},{"b":36,"k":0.85,"f":13.4},{"b":36,"k":1.07,"f":13.85},{"b":36,"k":1.38,"f":13.85},{"b":36,"k":1.685,"f":13.8},{"b":36,"k":1.91,"f":13.5},{"b":36,"k":2.135,"f":13.25},{"b":36,"k":2.455,"f":13.35},{"b":36,"k":2.775,"f":13.45},{"b":36,"k":3.08,"f":13.8},{"b":36,"k":3.38,"f":14.2},{"b":36,"k":3.61,"f":14.3},{"b":36,"k":3.835,"f":14.2},{"b":36,"k":4.14,"f":13.65},{"b":36,"k":4.445,"f":13.1},{"b":36,"k":4.66,"f":13.25},{"b":36,"k":4.88,"f":13.45},{"b":36,"k":4.88,"f":13.7},{"b":36,"k":5.2,"f":14.0},{"b":36,"k":5.52,"f":14.35},{"b":36,"k":5.52,"f":13.85},{"b":36,"k":5.84,"f":14.0},{"b":36,"k":6.165,"f":14.2},{"b":36,"k":6.165,"f":13.85},{"b":36,"k":6.49,"f":14.0},{"b":36,"k":6.81,"f":14.2},
{"b":37,"k":0,"f":13.45},{"b":37,"k":0.32,"f":13.2},{"b":37,"k":0.635,"f":13.0},{"b":37,"k":0.85,"f":13.5},{"b":37,"k":1.07,"f":13.85},{"b":37,"k":1.38,"f":13.9},{"b":37,"k":1.685,"f":13.8},{"b":37,"k":1.91,"f":13.6},{"b":37,"k":2.135,"f":13.45},{"b":37,"k":2.455,"f":13.5},{"b":37,"k":2.775,"f":13.45},{"b":37,"k":3.08,"f":13.85},{"b":37,"k":3.38,"f":14.2},{"b":37,"k":3.61,"f":14.4},{"b":37,"k":3.835,"f":14.2},{"b":37,"k":4.14,"f":13.7},{"b":37,"k":4.445,"f":13.1},{"b":37,"k":4.66,"f":13.3},{"b":37,"k":4.88,"f":13.45},{"b":37,"k":4.88,"f":14.2},{"b":37,"k":5.2,"f":14.3},{"b":37,"k":5.52,"f":14.35},{"b":37,"k":5.52,"f":13.85},{"b":37,"k":5.84,"f":14.0},{"b":37,"k":6.165,"f":14.2},{"b":37,"k":6.165,"f":13.85},{"b":37,"k":6.49,"f":14.0},{"b":37,"k":6.81,"f":14.2},
{"b":38,"k":0,"f":13.65},{"b":38,"k":0.32,"f":13.5},{"b":38,"k":0.635,"f":13.4},{"b":38,"k":0.85,"f":14.45},{"b":38,"k":1.07,"f":15.5},{"b":38,"k":1.38,"f":14.7},{"b":38,"k":1.685,"f":13.95},{"b":38,"k":1.91,"f":13.8},{"b":38,"k":2.135,"f":13.65},{"b":38,"k":2.455,"f":13.9},{"b":38,"k":2.775,"f":14.2},{"b":38,"k":3.08,"f":14.8},{"b":38,"k":3.38,"f":15.45},{"b":38,"k":3.61,"f":15.3},{"b":38,"k":3.835,"f":15.1},{"b":38,"k":4.14,"f":14.7},{"b":38,"k":4.445,"f":14.3},{"b":38,"k":4.66,"f":14.25},{"b":38,"k":4.88,"f":14.2},{"b":38,"k":4.88,"f":14.2},{"b":38,"k":5.2,"f":14.5},{"b":38,"k":5.52,"f":14.75},{"b":38,"k":5.52,"f":15.5},{"b":38,"k":5.84,"f":15.3},{"b":38,"k":6.165,"f":15.1},{"b":38,"k":6.165,"f":15.5},{"b":38,"k":6.49,"f":15.3},{"b":38,"k":6.81,"f":15.1},
{"b":39,"k":0,"f":14.1},{"b":39,"k":0.32,"f":13.75},{"b":39,"k":0.635,"f":13.4},{"b":39,"k":0.85,"f":14.3},{"b":39,"k":1.07,"f":15.5},{"b":39,"k":1.38,"f":14.9},{"b":39,"k":1.685,"f":13.95},{"b":39,"k":1.91,"f":14.0},{"b":39,"k":2.135,"f":14.1},{"b":39,"k":2.455,"f":14.4},{"b":39,"k":2.775,"f":14.2},{"b":39,"k":3.08,"f":14.9},{"b":39,"k":3.38,"f":15.45},{"b":39,"k":3.61,"f":15.25},{"b":39,"k":3.835,"f":15.1},{"b":39,"k":4.14,"f":14.75},{"b":39,"k":4.445,"f":14.3},{"b":39,"k":4.66,"f":14.3},{"b":39,"k":4.88,"f":14.2},{"b":39,"k":4.88,"f":15.5},{"b":39,"k":5.2,"f":15.3},{"b":39,"k":5.52,"f":15.05},{"b":39,"k":5.52,"f":15.5},{"b":39,"k":5.84,"f":15.3},{"b":39,"k":6.165,"f":15.1},{"b":39,"k":6.165,"f":15.5},{"b":39,"k":6.49,"f":15.3},{"b":39,"k":6.81,"f":15.1},
{"b":40,"k":0,"f":14.35},{"b":40,"k":0.32,"f":14.05},{"b":40,"k":0.635,"f":13.8},{"b":40,"k":0.85,"f":14.65},{"b":40,"k":1.07,"f":15.5},{"b":40,"k":1.38,"f":15.55},{"b":40,"k":1.685,"f":15.6},{"b":40,"k":1.91,"f":15.0},{"b":40,"k":2.135,"f":14.35},{"b":40,"k":2.455,"f":14.7},{"b":40,"k":2.775,"f":15.1},{"b":40,"k":3.08,"f":15.6},{"b":40,"k":3.38,"f":16.05},{"b":40,"k":3.61,"f":15.6},{"b":40,"k":3.835,"f":15.1},{"b":40,"k":4.14,"f":15.05},{"b":40,"k":4.445,"f":15.0},{"b":40,"k":4.66,"f":15.05},{"b":40,"k":4.88,"f":15.1},{"b":40,"k":4.88,"f":15.5},{"b":40,"k":5.2,"f":15.25},{"b":40,"k":5.52,"f":15.05},{"b":40,"k":5.52,"f":15.5},{"b":40,"k":5.84,"f":15.3},{"b":40,"k":6.165,"f":15.1},{"b":40,"k":6.165,"f":15.5},{"b":40,"k":6.49,"f":15.3},{"b":40,"k":6.81,"f":15.1},
{"b":41,"k":0,"f":14.75},{"b":41,"k":0.32,"f":14.3},{"b":41,"k":0.635,"f":13.8},{"b":41,"k":0.85,"f":15.05},{"b":41,"k":1.07,"f":16.3},{"b":41,"k":1.38,"f":15.95},{"b":41,"k":1.685,"f":15.6},{"b":41,"k":1.91,"f":15.2},{"b":41,"k":2.135,"f":14.75},{"b":41,"k":2.455,"f":14.9},{"b":41,"k":2.775,"f":15.1},{"b":41,"k":3.08,"f":15.6},{"b":41,"k":3.38,"f":16.05},{"b":41,"k":3.61,"f":15.9},{"b":41,"k":3.835,"f":15.8},{"b":41,"k":4.14,"f":15.4},{"b":41,"k":4.445,"f":15.0},{"b":41,"k":4.66,"f":15.1},{"b":41,"k":4.88,"f":15.1},{"b":41,"k":4.88,"f":16.15},{"b":41,"k":5.2,"f":15.9},{"b":41,"k":5.52,"f":15.65},{"b":41,"k":5.52,"f":16.3},{"b":41,"k":5.84,"f":16.05},{"b":41,"k":6.165,"f":15.8},{"b":41,"k":6.165,"f":16.3},{"b":41,"k":6.49,"f":16.05},{"b":41,"k":6.81,"f":15.8},
{"b":42,"k":0,"f":15.25},{"b":42,"k":0.32,"f":15.0},{"b":42,"k":0.635,"f":14.8},{"b":42,"k":0.85,"f":15.55},{"b":42,"k":1.07,"f":16.3},{"b":42,"k":1.38,"f":16.25},{"b":42,"k":1.685,"f":16.2},{"b":42,"k":1.91,"f":15.7},{"b":42,"k":2.135,"f":15.25},{"b":42,"k":2.455,"f":15.6},{"b":42,"k":2.775,"f":15.9},{"b":42,"k":3.08,"f":16.1},{"b":42,"k":3.38,"f":16.3},{"b":42,"k":3.61,"f":16.05},{"b":42,"k":3.835,"f":15.8},{"b":42,"k":4.14,"f":15.85},{"b":42,"k":4.445,"f":15.9},{"b":42,"k":4.66,"f":15.9},{"b":42,"k":4.88,"f":15.9},{"b":42,"k":4.88,"f":16.15},{"b":42,"k":5.2,"f":15.95},{"b":42,"k":5.52,"f":15.65},{"b":42,"k":5.52,"f":16.3},{"b":42,"k":5.84,"f":16.05},{"b":42,"k":6.165,"f":15.8},{"b":42,"k":6.165,"f":16.3},{"b":42,"k":6.49,"f":16.05},{"b":42,"k":6.81,"f":15.8},
{"b":43,"k":0,"f":15.75},{"b":43,"k":0.32,"f":15.3},{"b":43,"k":0.635,"f":14.8},{"b":43,"k":0.85,"f":15.7},{"b":43,"k":1.07,"f":16.3},{"b":43,"k":1.38,"f":16.4},{"b":43,"k":1.685,"f":16.2},{"b":43,"k":1.91,"f":16.0},{"b":43,"k":2.135,"f":15.75},{"b":43,"k":2.455,"f":15.8},{"b":43,"k":2.775,"f":15.9},{"b":43,"k":3.08,"f":16.1},{"b":43,"k":3.38,"f":16.3},{"b":43,"k":3.61,"f":16.1},{"b":43,"k":3.835,"f":15.8},{"b":43,"k":4.14,"f":15.9},{"b":43,"k":4.445,"f":15.9},{"b":43,"k":4.66,"f":15.95},{"b":43,"k":4.88,"f":15.9},{"b":43,"k":4.88,"f":16.85},{"b":43,"k":5.2,"f":16.4},{"b":43,"k":5.52,"f":15.95},{"b":43,"k":5.52,"f":16.3},{"b":43,"k":5.84,"f":16.05},{"b":43,"k":6.165,"f":15.8},{"b":43,"k":6.165,"f":16.3},{"b":43,"k":6.49,"f":16.05},{"b":43,"k":6.81,"f":15.8},
{"b":44,"k":0,"f":16.5},{"b":44,"k":0.32,"f":16.0},{"b":44,"k":0.635,"f":15.45},{"b":44,"k":0.85,"f":15.9},{"b":44,"k":1.07,"f":16.3},{"b":44,"k":1.38,"f":16.7},{"b":44,"k":1.685,"f":17.15},{"b":44,"k":1.91,"f":16.8},{"b":44,"k":2.135,"f":16.5},{"b":44,"k":2.455,"f":16.4},{"b":44,"k":2.775,"f":16.3},{"b":44,"k":3.08,"f":16.55},{"b":44,"k":3.38,"f":16.8},{"b":44,"k":3.61,"f":16.3},{"b":44,"k":3.835,"f":15.8},{"b":44,"k":4.14,"f":16.4},{"b":44,"k":4.445,"f":17.0},{"b":44,"k":4.66,"f":16.65},{"b":44,"k":4.88,"f":16.3},{"b":44,"k":4.88,"f":16.85},{"b":44,"k":5.2,"f":16.45},{"b":44,"k":5.52,"f":15.95},{"b":44,"k":5.52,"f":16.3},{"b":44,"k":5.84,"f":16.05},{"b":44,"k":6.165,"f":15.8},{"b":44,"k":6.165,"f":16.3},{"b":44,"k":6.49,"f":16.05},{"b":44,"k":6.81,"f":15.8},
{"b":45,"k":0,"f":16.95},{"b":45,"k":0.32,"f":16.2},{"b":45,"k":0.635,"f":15.45},{"b":45,"k":0.85,"f":16.25},{"b":45,"k":1.07,"f":17.05},{"b":45,"k":1.38,"f":17.1},{"b":45,"k":1.685,"f":17.15},{"b":45,"k":1.91,"f":17.05},{"b":45,"k":2.135,"f":16.95},{"b":45,"k":2.455,"f":16.6},{"b":45,"k":2.775,"f":16.3},{"b":45,"k":3.08,"f":16.6},{"b":45,"k":3.38,"f":16.8},{"b":45,"k":3.61,"f":17.3},{"b":45,"k":3.835,"f":17.75},{"b":45,"k":4.14,"f":17.4},{"b":45,"k":4.445,"f":17.0},{"b":45,"k":4.66,"f":16.7},{"b":45,"k":4.88,"f":16.3},{"b":45,"k":4.88,"f":17.3},{"b":45,"k":5.2,"f":17.3},{"b":45,"k":5.52,"f":17.3},{"b":45,"k":5.52,"f":17.05},{"b":45,"k":5.84,"f":17.4},{"b":45,"k":6.165,"f":17.75},{"b":45,"k":6.165,"f":17.05},{"b":45,"k":6.49,"f":17.4},{"b":45,"k":6.81,"f":17.75},
{"b":46,"k":0,"f":17.3},{"b":46,"k":0.32,"f":16.7},{"b":46,"k":0.635,"f":16.1},{"b":46,"k":0.85,"f":16.6},{"b":46,"k":1.07,"f":17.05},{"b":46,"k":1.38,"f":17.7},{"b":46,"k":1.685,"f":18.35},{"b":46,"k":1.91,"f":17.8},{"b":46,"k":2.135,"f":17.3},{"b":46,"k":2.455,"f":17.1},{"b":46,"k":2.775,"f":16.95},{"b":46,"k":3.08,"f":17.5},{"b":46,"k":3.38,"f":18.0},{"b":46,"k":3.61,"f":17.9},{"b":46,"k":3.835,"f":17.75},{"b":46,"k":4.14,"f":18.0},{"b":46,"k":4.445,"f":18.2},{"b":46,"k":4.66,"f":17.55},{"b":46,"k":4.88,"f":16.95},{"b":46,"k":4.88,"f":18.2},{"b":46,"k":5.2,"f":17.75},{"b":46,"k":5.52,"f":17.3},{"b":46,"k":5.52,"f":17.05},{"b":46,"k":5.84,"f":17.4},{"b":46,"k":6.165,"f":17.75},{"b":46,"k":6.165,"f":17.05},{"b":46,"k":6.49,"f":17.4},{"b":46,"k":6.81,"f":17.75},
{"b":47,"k":0,"f":18.15},{"b":47,"k":0.32,"f":17.1},{"b":47,"k":0.635,"f":16.1},{"b":47,"k":0.85,"f":16.5},{"b":47,"k":1.07,"f":17.05},{"b":47,"k":1.38,"f":17.8},{"b":47,"k":1.685,"f":18.35},{"b":47,"k":1.91,"f":18.25},{"b":47,"k":2.135,"f":18.15},{"b":47,"k":2.455,"f":17.5},{"b":47,"k":2.775,"f":16.95},{"b":47,"k":3.08,"f":17.5},{"b":47,"k":3.38,"f":18.0},{"b":47,"k":3.61,"f":17.85},{"b":47,"k":3.835,"f":17.75},{"b":47,"k":4.14,"f":17.95},{"b":47,"k":4.445,"f":18.2},{"b":47,"k":4.66,"f":17.6},{"b":47,"k":4.88,"f":16.95},{"b":47,"k":4.88,"f":18.2},{"b":47,"k":5.2,"f":18.2},{"b":47,"k":5.52,"f":18.15},{"b":47,"k":5.52,"f":17.05},{"b":47,"k":5.84,"f":17.4},{"b":47,"k":6.165,"f":17.75},{"b":47,"k":6.165,"f":17.05},{"b":47,"k":6.49,"f":17.4},{"b":47,"k":6.81,"f":17.75},
{"b":48,"k":0,"f":18.55},{"b":48,"k":0.32,"f":17.9},{"b":48,"k":0.635,"f":17.25},{"b":48,"k":0.85,"f":17.65},{"b":48,"k":1.07,"f":18.05},{"b":48,"k":1.38,"f":18.4},{"b":48,"k":1.685,"f":18.8},{"b":48,"k":1.91,"f":18.7},{"b":48,"k":2.135,"f":18.55},{"b":48,"k":2.455,"f":18.5},{"b":48,"k":2.775,"f":18.4},{"b":48,"k":3.08,"f":18.5},{"b":48,"k":3.38,"f":18.55},{"b":48,"k":3.61,"f":18.65},{"b":48,"k":3.835,"f":18.75},{"b":48,"k":4.14,"f":19.0},{"b":48,"k":4.445,"f":19.3},{"b":48,"k":4.66,"f":18.85},{"b":48,"k":4.88,"f":18.4},{"b":48,"k":4.88,"f":18.55},{"b":48,"k":5.2,"f":18.35},{"b":48,"k":5.52,"f":18.15},{"b":48,"k":5.52,"f":18.05},{"b":48,"k":5.84,"f":18.4},{"b":48,"k":6.165,"f":18.75},{"b":48,"k":6.165,"f":18.05},{"b":48,"k":6.49,"f":18.4},{"b":48,"k":6.81,"f":18.75},
{"b":49,"k":0,"f":18.95},{"b":49,"k":0.32,"f":18.1},{"b":49,"k":0.635,"f":17.25},{"b":49,"k":0.85,"f":17.7},{"b":49,"k":1.07,"f":18.05},{"b":49,"k":1.38,"f":18.5},{"b":49,"k":1.685,"f":18.8},{"b":49,"k":1.91,"f":18.9},{"b":49,"k":2.135,"f":18.95},{"b":49,"k":2.455,"f":18.7},{"b":49,"k":2.775,"f":18.4},{"b":49,"k":3.08,"f":18.45},{"b":49,"k":3.38,"f":18.55},{"b":49,"k":3.61,"f":18.7},{"b":49,"k":3.835,"f":18.75},{"b":49,"k":4.14,"f":19.05},{"b":49,"k":4.445,"f":19.3},{"b":49,"k":4.66,"f":18.9},{"b":49,"k":4.88,"f":18.4},{"b":49,"k":4.88,"f":18.55},{"b":49,"k":5.2,"f":18.5},{"b":49,"k":5.52,"f":18.4},{"b":49,"k":5.52,"f":18.05},{"b":49,"k":5.84,"f":18.4},{"b":49,"k":6.165,"f":18.75},{"b":49,"k":6.165,"f":18.05},{"b":49,"k":6.49,"f":18.4},{"b":49,"k":6.81,"f":18.75},
{"b":50,"k":0,"f":19.4},{"b":50,"k":0.32,"f":18.8},{"b":50,"k":0.635,"f":18.15},{"b":50,"k":0.85,"f":18.1},{"b":50,"k":1.07,"f":18.05},{"b":50,"k":1.38,"f":18.6},{"b":50,"k":1.685,"f":19.1},{"b":50,"k":1.91,"f":19.25},{"b":50,"k":2.135,"f":19.4},{"b":50,"k":2.455,"f":19.2},{"b":50,"k":2.775,"f":18.9},{"b":50,"k":3.08,"f":19.2},{"b":50,"k":3.38,"f":19.55},{"b":50,"k":3.61,"f":19.15},{"b":50,"k":3.835,"f":18.75},{"b":50,"k":4.14,"f":19.0},{"b":50,"k":4.445,"f":19.3},{"b":50,"k":4.66,"f":19.1},{"b":50,"k":4.88,"f":18.9},{"b":50,"k":4.88,"f":19.5},{"b":50,"k":5.2,"f":18.95},{"b":50,"k":5.52,"f":18.4},{"b":50,"k":5.52,"f":18.05},{"b":50,"k":5.84,"f":18.4},{"b":50,"k":6.165,"f":18.75},{"b":50,"k":6.165,"f":18.05},{"b":50,"k":6.49,"f":18.4},{"b":50,"k":6.81,"f":18.75},
{"b":51,"k":0,"f":19.65},{"b":51,"k":0.32,"f":18.9},{"b":51,"k":0.635,"f":18.15},{"b":51,"k":0.85,"f":18.2},{"b":51,"k":1.07,"f":18.05},{"b":51,"k":1.38,"f":19.2},{"b":51,"k":1.685,"f":20.8},{"b":51,"k":1.91,"f":20.3},{"b":51,"k":2.135,"f":19.65},{"b":51,"k":2.455,"f":19.3},{"b":51,"k":2.775,"f":18.9},{"b":51,"k":3.08,"f":19.25},{"b":51,"k":3.38,"f":19.55},{"b":51,"k":3.61,"f":19.2},{"b":51,"k":3.835,"f":18.75},{"b":51,"k":4.14,"f":19.05},{"b":51,"k":4.445,"f":19.3},{"b":51,"k":4.66,"f":19.1},{"b":51,"k":4.88,"f":18.9},{"b":51,"k":4.88,"f":19.5},{"b":51,"k":5.2,"f":20.15},{"b":51,"k":5.52,"f":20.8},{"b":51,"k":5.52,"f":18.05},{"b":51,"k":5.84,"f":18.4},{"b":51,"k":6.165,"f":18.75},{"b":51,"k":6.165,"f":18.05},{"b":51,"k":6.49,"f":18.4},{"b":51,"k":6.81,"f":18.75},
{"b":52,"k":0,"f":20.1},{"b":52,"k":0.32,"f":20.5},{"b":52,"k":0.635,"f":20.8},{"b":52,"k":0.85,"f":20.8},{"b":52,"k":1.07,"f":20.85},{"b":52,"k":1.23,"f":21.3},{"b":52,"k":1.38,"f":20.6},{"b":52,"k":1.685,"f":19.4},{"b":52,"k":1.91,"f":19.7},{"b":52,"k":2.135,"f":20.1},{"b":52,"k":2.455,"f":20.6},{"b":52,"k":2.775,"f":21.0},{"b":52,"k":3.08,"f":20.7},{"b":52,"k":3.38,"f":20.35},{"b":52,"k":3.61,"f":20.3},{"b":52,"k":3.835,"f":20.25},{"b":52,"k":4.14,"f":20.65},{"b":52,"k":4.445,"f":21.0},{"b":52,"k":4.66,"f":21.0},{"b":52,"k":4.88,"f":21.0},{"b":52,"k":4.88,"f":20.0},{"b":52,"k":5.2,"f":20.4},{"b":52,"k":5.52,"f":20.8},{"b":52,"k":5.52,"f":20.85},{"b":52,"k":5.84,"f":20.55},{"b":52,"k":6.165,"f":20.25},{"b":52,"k":6.165,"f":20.85},{"b":52,"k":6.49,"f":20.55},{"b":52,"k":6.81,"f":20.25},
{"b":53,"k":0,"f":20.8},{"b":53,"k":0.32,"f":21.2},{"b":53,"k":0.5,"f":21.7},{"b":53,"k":0.635,"f":20.8},{"b":53,"k":0.85,"f":20.9},{"b":53,"k":1.07,"f":20.85},{"b":53,"k":1.38,"f":20.85},{"b":53,"k":1.685,"f":20.8},{"b":53,"k":1.91,"f":20.8},{"b":53,"k":2.135,"f":20.8},{"b":53,"k":2.455,"f":21.4},{"b":53,"k":2.6,"f":21.65},{"b":53,"k":2.775,"f":21.0},{"b":53,"k":3.08,"f":20.75},{"b":53,"k":3.38,"f":20.35},{"b":53,"k":3.61,"f":20.35},{"b":53,"k":3.835,"f":20.25},{"b":53,"k":4.14,"f":20.7},{"b":53,"k":4.445,"f":21.05},{"b":53,"k":4.66,"f":21.05},{"b":53,"k":4.88,"f":21.0},{"b":53,"k":4.88,"f":20.35},{"b":53,"k":5.2,"f":20.6},{"b":53,"k":5.52,"f":20.9},{"b":53,"k":5.52,"f":20.85},{"b":53,"k":5.84,"f":20.55},{"b":53,"k":6.165,"f":20.25},{"b":53,"k":6.165,"f":20.85},{"b":53,"k":6.49,"f":20.55},{"b":53,"k":6.81,"f":20.25}
    ],
    "dos": [
{"atom":"Toplam","f":0,"dos":0},{"atom":"Toplam","f":0.46,"dos":0.04},{"atom":"Toplam","f":0.96,"dos":0.09},{"atom":"Toplam","f":1.46,"dos":0.22},{"atom":"Toplam","f":2.0,"dos":0.45},{"atom":"Toplam","f":2.24,"dos":0.95},{"atom":"Toplam","f":2.5,"dos":1.95},{"atom":"Toplam","f":2.89,"dos":2.79},{"atom":"Toplam","f":3.2,"dos":3.2},{"atom":"Toplam","f":3.35,"dos":3.31},{"atom":"Toplam","f":3.55,"dos":3.15},{"atom":"Toplam","f":3.97,"dos":2.29},{"atom":"Toplam","f":4.35,"dos":1.29},{"atom":"Toplam","f":4.74,"dos":0.45},{"atom":"Toplam","f":5.08,"dos":0.02},{"atom":"Toplam","f":5.3,"dos":0},{"atom":"Toplam","f":5.5,"dos":0},{"atom":"Toplam","f":5.65,"dos":0.02},{"atom":"Toplam","f":5.86,"dos":0.09},{"atom":"Toplam","f":6.36,"dos":0.49},{"atom":"Toplam","f":7.0,"dos":0.95},{"atom":"Toplam","f":7.78,"dos":1.49},{"atom":"Toplam","f":8.0,"dos":1.49},{"atom":"Toplam","f":8.36,"dos":1.55},{"atom":"Toplam","f":8.8,"dos":1.89},{"atom":"Toplam","f":9.25,"dos":1.69},{"atom":"Toplam","f":9.7,"dos":2.02},{"atom":"Toplam","f":9.95,"dos":1.99},{"atom":"Toplam","f":10.2,"dos":1.82},{"atom":"Toplam","f":10.6,"dos":2.29},{"atom":"Toplam","f":10.87,"dos":2.42},{"atom":"Toplam","f":11.37,"dos":1.95},{"atom":"Toplam","f":11.75,"dos":1.55},{"atom":"Toplam","f":12.2,"dos":1.59},{"atom":"Toplam","f":12.65,"dos":1.95},{"atom":"Toplam","f":13.03,"dos":2.62},{"atom":"Toplam","f":13.3,"dos":3.2},{"atom":"Toplam","f":13.45,"dos":3.31},{"atom":"Toplam","f":13.6,"dos":3.2},{"atom":"Toplam","f":13.8,"dos":2.79},{"atom":"Toplam","f":14.2,"dos":2.12},{"atom":"Toplam","f":14.57,"dos":1.62},{"atom":"Toplam","f":14.77,"dos":1.62},{"atom":"Toplam","f":15.03,"dos":1.85},{"atom":"Toplam","f":15.35,"dos":2.09},{"atom":"Toplam","f":15.7,"dos":1.95},{"atom":"Toplam","f":16.1,"dos":1.62},{"atom":"Toplam","f":16.37,"dos":1.39},{"atom":"Toplam","f":16.64,"dos":1.39},{"atom":"Toplam","f":17.02,"dos":1.55},{"atom":"Toplam","f":17.46,"dos":1.79},{"atom":"Toplam","f":17.9,"dos":2.12},{"atom":"Toplam","f":18.1,"dos":2.15},{"atom":"Toplam","f":18.37,"dos":1.79},{"atom":"Toplam","f":18.56,"dos":1.45},{"atom":"Toplam","f":18.76,"dos":1.02},{"atom":"Toplam","f":18.96,"dos":0.95},{"atom":"Toplam","f":19.2,"dos":0.92},{"atom":"Toplam","f":19.46,"dos":0.85},{"atom":"Toplam","f":19.72,"dos":0.89},{"atom":"Toplam","f":20.36,"dos":1.19},{"atom":"Toplam","f":20.6,"dos":1.22},{"atom":"Toplam","f":20.9,"dos":1.27},{"atom":"Toplam","f":21.07,"dos":1.25},{"atom":"Toplam","f":21.15,"dos":0.95},{"atom":"Toplam","f":21.3,"dos":0.49},{"atom":"Toplam","f":21.5,"dos":0.19},{"atom":"Toplam","f":22.03,"dos":0},
{"atom":"Lu","f":0,"dos":0},{"atom":"Lu","f":0.46,"dos":0.04},{"atom":"Lu","f":0.96,"dos":0.08},{"atom":"Lu","f":1.46,"dos":0.19},{"atom":"Lu","f":2.0,"dos":0.41},{"atom":"Lu","f":2.24,"dos":0.86},{"atom":"Lu","f":2.5,"dos":1.78},{"atom":"Lu","f":2.89,"dos":2.6},{"atom":"Lu","f":3.2,"dos":3.0},{"atom":"Lu","f":3.35,"dos":3.1},{"atom":"Lu","f":3.55,"dos":2.98},{"atom":"Lu","f":3.97,"dos":2.12},{"atom":"Lu","f":4.35,"dos":1.2},{"atom":"Lu","f":4.74,"dos":0.4},{"atom":"Lu","f":5.08,"dos":0.03},{"atom":"Lu","f":5.3,"dos":0.01},{"atom":"Lu","f":5.6,"dos":0.01},{"atom":"Lu","f":6.0,"dos":0.04},{"atom":"Lu","f":7.0,"dos":0.1},{"atom":"Lu","f":8.0,"dos":0.12},{"atom":"Lu","f":9.0,"dos":0.12},{"atom":"Lu","f":10.0,"dos":0.09},{"atom":"Lu","f":11.0,"dos":0.06},{"atom":"Lu","f":12.0,"dos":0.04},{"atom":"Lu","f":14.0,"dos":0.03},{"atom":"Lu","f":16.0,"dos":0.02},{"atom":"Lu","f":18.0,"dos":0.01},{"atom":"Lu","f":21.0,"dos":0.01},{"atom":"Lu","f":22.0,"dos":0},
{"atom":"Al","f":0,"dos":0},{"atom":"Al","f":0.5,"dos":0.01},{"atom":"Al","f":1.0,"dos":0.02},{"atom":"Al","f":1.46,"dos":0.02},{"atom":"Al","f":2.0,"dos":0.06},{"atom":"Al","f":2.24,"dos":0.09},{"atom":"Al","f":2.77,"dos":0.15},{"atom":"Al","f":3.3,"dos":0.14},{"atom":"Al","f":3.55,"dos":0.14},{"atom":"Al","f":4.0,"dos":0.09},{"atom":"Al","f":4.5,"dos":0.05},{"atom":"Al","f":5.0,"dos":0.02},{"atom":"Al","f":5.3,"dos":0},{"atom":"Al","f":5.5,"dos":0},{"atom":"Al","f":5.7,"dos":0.02},{"atom":"Al","f":6.09,"dos":0.1},{"atom":"Al","f":6.86,"dos":0.22},{"atom":"Al","f":7.63,"dos":0.32},{"atom":"Al","f":8.28,"dos":0.39},{"atom":"Al","f":8.93,"dos":0.52},{"atom":"Al","f":9.17,"dos":0.52},{"atom":"Al","f":9.7,"dos":0.55},{"atom":"Al","f":10.2,"dos":0.54},{"atom":"Al","f":10.67,"dos":0.69},{"atom":"Al","f":10.87,"dos":0.79},{"atom":"Al","f":11.37,"dos":0.65},{"atom":"Al","f":11.75,"dos":0.49},{"atom":"Al","f":11.95,"dos":0.45},{"atom":"Al","f":12.25,"dos":0.62},{"atom":"Al","f":12.9,"dos":0.95},{"atom":"Al","f":13.55,"dos":1.04},{"atom":"Al","f":13.8,"dos":0.95},{"atom":"Al","f":14.33,"dos":0.62},{"atom":"Al","f":14.7,"dos":0.49},{"atom":"Al","f":15.2,"dos":0.64},{"atom":"Al","f":15.73,"dos":0.49},{"atom":"Al","f":16.26,"dos":0.25},{"atom":"Al","f":16.76,"dos":0.17},{"atom":"Al","f":17.8,"dos":0.19},{"atom":"Al","f":18.7,"dos":0.25},{"atom":"Al","f":19.96,"dos":0.19},{"atom":"Al","f":21.1,"dos":0.09},{"atom":"Al","f":21.9,"dos":0.02},{"atom":"Al","f":22.1,"dos":0},
{"atom":"O","f":0,"dos":0},{"atom":"O","f":0.5,"dos":0.01},{"atom":"O","f":1.0,"dos":0.02},{"atom":"O","f":1.46,"dos":0.04},{"atom":"O","f":2.0,"dos":0.1},{"atom":"O","f":2.24,"dos":0.14},{"atom":"O","f":2.77,"dos":0.19},{"atom":"O","f":3.3,"dos":0.19},{"atom":"O","f":3.55,"dos":0.19},{"atom":"O","f":4.0,"dos":0.13},{"atom":"O","f":4.5,"dos":0.07},{"atom":"O","f":5.0,"dos":0.02},{"atom":"O","f":5.3,"dos":0},{"atom":"O","f":5.5,"dos":0},{"atom":"O","f":5.7,"dos":0.02},{"atom":"O","f":5.97,"dos":0.09},{"atom":"O","f":6.47,"dos":0.29},{"atom":"O","f":7.13,"dos":0.62},{"atom":"O","f":7.78,"dos":0.95},{"atom":"O","f":8.16,"dos":1.02},{"atom":"O","f":8.8,"dos":1.25},{"atom":"O","f":9.3,"dos":1.15},{"atom":"O","f":9.83,"dos":1.39},{"atom":"O","f":10.33,"dos":1.29},{"atom":"O","f":10.87,"dos":1.57},{"atom":"O","f":11.25,"dos":1.39},{"atom":"O","f":11.75,"dos":1.15},{"atom":"O","f":12.4,"dos":1.09},{"atom":"O","f":12.72,"dos":1.29},{"atom":"O","f":13.03,"dos":1.95},{"atom":"O","f":13.4,"dos":2.24},{"atom":"O","f":13.8,"dos":1.95},{"atom":"O","f":14.2,"dos":1.55},{"atom":"O","f":14.7,"dos":1.12},{"atom":"O","f":15.1,"dos":1.35},{"atom":"O","f":15.5,"dos":1.47},{"atom":"O","f":15.87,"dos":1.42},{"atom":"O","f":16.26,"dos":1.25},{"atom":"O","f":16.64,"dos":1.22},{"atom":"O","f":16.88,"dos":1.35},{"atom":"O","f":17.27,"dos":1.62},{"atom":"O","f":17.8,"dos":1.82},{"atom":"O","f":18.2,"dos":1.89},{"atom":"O","f":18.56,"dos":1.45},{"atom":"O","f":18.7,"dos":1.02},{"atom":"O","f":18.96,"dos":0.82},{"atom":"O","f":19.6,"dos":0.79},{"atom":"O","f":20.2,"dos":1.1},{"atom":"O","f":20.6,"dos":1.12},{"atom":"O","f":21.0,"dos":1.19},{"atom":"O","f":21.15,"dos":0.95},{"atom":"O","f":21.3,"dos":0.49},{"atom":"O","f":21.5,"dos":0.19},{"atom":"O","f":21.9,"dos":0.02},{"atom":"O","f":22.1,"dos":0}
    ]
  },
  "layer": [
    {
      "layer": [
        {
          "data": {"name": "bands"},
          "mark": {"type": "line", "interpolate": "monotone", "color": "#e4241b", "strokeWidth": 1.3, "clip": true},
          "encoding": {
            "x": {
              "field": "k", "type": "quantitative",
              "scale": {"domain": [0, 10.12], "nice": false, "zero": false},
              "axis": {
                "values": [0, 0.635, 1.07, 1.685, 2.135, 2.775, 3.38, 3.835, 4.445, 4.88, 5.52, 6.165, 6.81],
                "labelExpr": "['Γ','X','S','Y','Γ','Z','U','R','T','Z-Y','T-U','X-S','R'][indexof([0,0.635,1.07,1.685,2.135,2.775,3.38,3.835,4.445,4.88,5.52,6.165,6.81], datum.value)]",
                "labelAlign": "left",
                "labelBaseline": "top",
                "labelPadding": 9,
                "labelOffset": 1,
                "labelFont": "Liberation Sans",
                "labelFontSize": 20,
                "labelColor": "#222222",
                "labelOverlap": false,
                "labelFlush": false,
                "labelBound": false,
                "ticks": false,
                "domain": false,
                "grid": false,
                "title": "Fonon DOS",
                "titleFont": "Liberation Serif",
                "titleFontSize": 30,
                "titleFontWeight": "normal",
                "titleColor": "#111111",
                "titleX": 850,
                "titleY": 32,
                "titleAlign": "center",
                "titleBaseline": "alphabetic"
              }
            },
            "y": {
              "field": "f", "type": "quantitative",
              "scale": {"domain": [0, 24.08], "nice": false, "zero": true},
              "axis": {
                "values": [0, 5, 10, 15, 20],
                "labelFont": "Liberation Sans",
                "labelFontSize": 20,
                "labelColor": "#222222",
                "labelPadding": 13,
                "tickSize": 8,
                "tickColor": "#444444",
                "tickWidth": 1.2,
                "domain": false,
                "grid": false,
                "title": "F r e k a n s [ T H z ]",
                "titleFont": "Liberation Serif",
                "titleFontSize": 28,
                "titleFontWeight": "normal",
                "titleColor": "#111111",
                "titlePadding": 27,
                "titleY": 326
              }
            },
            "detail": {"field": "b", "type": "nominal"}
          }
        },
        {
          "data": {"name": "kpts"},
          "mark": {"type": "rule", "color": "#111111", "strokeWidth": 1.6},
          "encoding": {
            "x": {"field": "k", "type": "quantitative", "scale": {"domain": [0, 10.12], "nice": false, "zero": false}}
          }
        }
      ]
    },
    {
      "data": {"name": "dos"},
      "mark": {"type": "line", "strokeWidth": 1.8, "clip": true},
      "encoding": {
        "x": {"field": "dos", "type": "quantitative", "scale": {"domain": [-6.81, 3.31], "nice": false, "zero": false}, "axis": null},
        "y": {"field": "f", "type": "quantitative", "scale": {"domain": [0, 24.08], "nice": false}},
        "order": {"field": "f", "type": "quantitative"},
        "color": {
          "field": "atom", "type": "nominal",
          "scale": {"domain": ["Toplam", "Lu", "Al", "O"], "range": ["#111111", "#9400d3", "#009e73", "#56b4e9"]},
          "legend": {
            "title": null, "orient": "none", "legendX": 948, "legendY": 11, "padding": 0,
            "symbolType": "M-6,0H6", "symbolSize": 100, "symbolStrokeWidth": 2, "symbolFillColor": "transparent",
            "labelAlign": "right", "labelOffset": -55, "labelFont": "Liberation Sans", "labelFontSize": 19,
            "labelColor": "#222222", "rowPadding": 1.7
          }
        },
        "strokeDash": {
          "field": "atom", "type": "nominal",
          "scale": {"domain": ["Toplam", "Lu", "Al", "O"], "range": [[2, 6], [1, 0], [1, 0], [1, 0]]},
          "legend": {
            "title": null, "orient": "none", "legendX": 948, "legendY": 11, "padding": 0,
            "symbolType": "M-6,0H6", "symbolSize": 100, "symbolStrokeWidth": 2, "symbolFillColor": "transparent",
            "labelAlign": "right", "labelOffset": -55, "labelFont": "Liberation Sans", "labelFontSize": 19,
            "labelColor": "#222222", "rowPadding": 1.7
          }
        }
      }
    }
  ],
  "resolve": {"scale": {"x": "independent"}}
}
